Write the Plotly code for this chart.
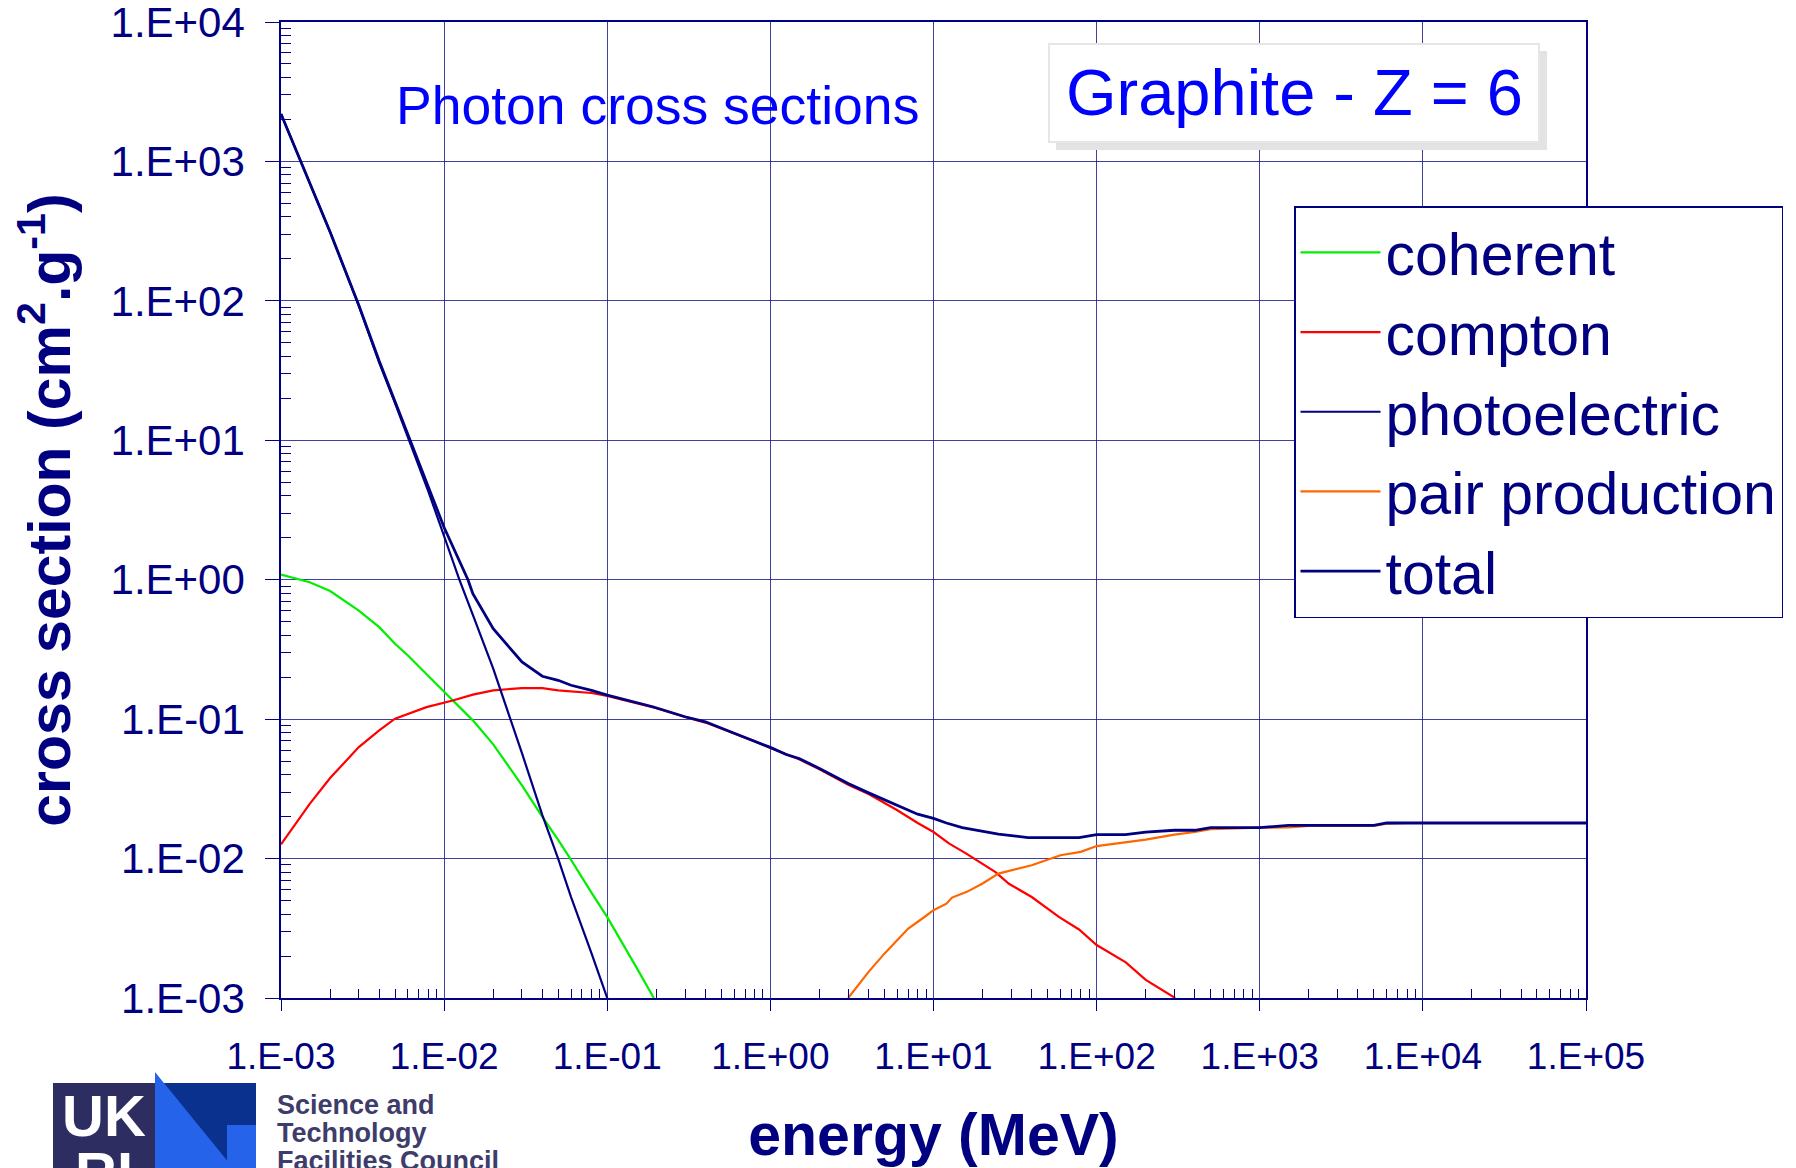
import plotly.graph_objects as go

# ---------------- data ----------------
coherent_E = [0.001, 0.0015, 0.002, 0.003, 0.004, 0.005, 0.006, 0.008, 0.01, 0.015,
              0.02, 0.03, 0.04, 0.05, 0.06, 0.08, 0.1, 0.15, 0.193]
coherent_sig = [1.09, 0.96, 0.83, 0.60, 0.457, 0.347, 0.286, 0.206, 0.157, 0.098,
                0.066, 0.0335, 0.0199, 0.0136, 0.0098, 0.0057, 0.0038, 0.00168, 0.001]

compton_E = [0.001, 0.0015, 0.002, 0.003, 0.004, 0.005, 0.0078, 0.0113, 0.015, 0.02,
             0.03, 0.04, 0.05, 0.08, 0.1, 0.15, 0.2, 0.3, 0.4, 0.6, 0.8, 1.0, 1.5, 2.0,
             3.0, 4.0, 5.0, 6.0, 8.0, 10.0, 12.5, 15.8, 24.0, 29.0, 40.0, 59.0, 78.0,
             100.0, 151.0, 200.0, 303.0]
compton_sig = [0.01265, 0.0247, 0.0378, 0.063, 0.083, 0.1007, 0.122, 0.136, 0.150, 0.161,
               0.167, 0.167, 0.161, 0.154, 0.147, 0.131, 0.120, 0.1035, 0.0945, 0.079,
               0.0695, 0.0620, 0.0515, 0.0437, 0.0338, 0.029, 0.0250, 0.0222, 0.0180,
               0.0155, 0.0128, 0.0109, 0.0080, 0.0066, 0.0053, 0.0038, 0.0031, 0.0024,
               0.0018, 0.00135, 0.001]

photo_E = [0.001, 0.0015, 0.002, 0.003, 0.004, 0.005, 0.006, 0.008, 0.01, 0.0124,
           0.015, 0.02, 0.03, 0.04, 0.05, 0.06, 0.08, 0.1]
photo_sig = [2190, 700, 312, 92, 36, 18.5, 10.6, 4.3, 2.05, 1.0,
             0.56, 0.23, 0.057, 0.0205, 0.010, 0.0053, 0.0021, 0.001]

pair_E = [3.0, 4.0, 5.0, 7.0, 8.8, 10.0, 12.0, 13.0, 16.0, 20.0, 25.0, 40.0, 60.0, 80.0,
          100.0, 200.0, 300.0, 400.0, 500.0, 1000.0, 1500.0, 2000.0, 5000.0, 6000.0,
          8000.0, 100000.0]
pair_sig = [0.001, 0.00154, 0.00208, 0.00315, 0.00381, 0.00426, 0.00475, 0.00525, 0.00577,
            0.00662, 0.0078, 0.00895, 0.01056, 0.01117, 0.0123, 0.01368, 0.01486, 0.0155,
            0.01625, 0.01667, 0.0167, 0.01714, 0.01714, 0.0178, 0.018, 0.018]

total_E = [0.001, 0.0015, 0.002, 0.003, 0.004, 0.005, 0.006, 0.008, 0.01, 0.014, 0.015,
           0.02, 0.03, 0.04, 0.05, 0.06, 0.08, 0.1, 0.19, 0.3, 0.4, 0.59, 0.78, 1.0,
           1.25, 1.5, 2.0, 3.0, 4.0, 5.0, 6.0, 8.0, 10.0, 12.0, 15.0, 18.0, 25.0, 38.0,
           78.0, 100.0, 150.0, 200.0, 300.0, 400.0, 500.0, 1000.0, 1500.0, 5000.0,
           6000.0, 100000.0]
total_sig = [2190, 700, 312, 93, 37, 19, 11, 4.6, 2.37, 1.0, 0.794,
             0.445, 0.257, 0.203, 0.19, 0.175, 0.161, 0.1486, 0.1227, 0.104, 0.0957,
             0.0798, 0.0706, 0.0627, 0.0558, 0.0522, 0.0443, 0.0345, 0.0296, 0.0265,
             0.0241, 0.0208, 0.0194, 0.018, 0.0167, 0.016, 0.01496, 0.01415, 0.01415,
             0.01486, 0.01486, 0.0155, 0.01596, 0.01596, 0.01667, 0.01667, 0.01733,
             0.01733, 0.018, 0.018]

x_tickvals = [1e-3, 1e-2, 1e-1, 1e0, 1e1, 1e2, 1e3, 1e4, 1e5]
x_ticktext = ["1.E-03", "1.E-02", "1.E-01", "1.E+00", "1.E+01", "1.E+02",
              "1.E+03", "1.E+04", "1.E+05"]
y_tickvals = [1e-3, 1e-2, 1e-1, 1e0, 1e1, 1e2, 1e3, 1e4]
y_ticktext = ["1.E-03", "1.E-02", "1.E-01", "1.E+00", "1.E+01", "1.E+02",
              "1.E+03", "1.E+04"]

series_names = ["coherent", "compton", "photoelectric", "pair production", "total"]
series_colors = ["#00EE00", "#FF0000", "#000080", "#FF6600", "#000080"]

# ---------------- layout helpers ----------------
FONT = "Liberation Sans, Arial, sans-serif"
NAVY = "#000080"
W_PX, H_PX = 1796, 1168
OFF = 8                      # page body margin of the html page
L, R, T, B = 281, 1586, 22, 998   # plot area in page pixels
PW, PH = R - L, B - T


def px(x):
    return (x - L) / PW


def py(y):
    return (B - y) / PH


minor_x = [m * 10 ** k for k in range(-3, 5) for m in range(2, 10)]
minor_y = [m * 10 ** k for k in range(-3, 4) for m in range(2, 10)]

fig = go.Figure()
data = [(coherent_E, coherent_sig), (compton_E, compton_sig), (photo_E, photo_sig),
        (pair_E, pair_sig), (total_E, total_sig)]
widths = [2.2, 2.2, 2.2, 2.2, 2.8]
for (xs, ys), name, col, w in zip(data, series_names, series_colors, widths):
    fig.add_trace(go.Scatter(x=xs, y=ys, mode="lines", name=name,
                             line=dict(color=col, width=w)))

axis_common = dict(
    type="log", showgrid=True, gridcolor="rgba(30,30,140,0.85)", gridwidth=1,
    showline=True, linecolor=NAVY, linewidth=1.5, mirror=True,
    tickmode="array", ticks="outside", tickcolor=NAVY, tickwidth=1,
    zeroline=False, ticklabeloverflow="allow",
)

fig.update_xaxes(
    **axis_common, range=[-3, 5], tickvals=x_tickvals, ticktext=x_ticktext,
    ticklen=11, ticklabelstandoff=14,
    tickfont=dict(family=FONT, size=37, color=NAVY),
    minor=dict(tickmode="array", tickvals=minor_x, ticks="inside", ticklen=9,
               tickcolor=NAVY, tickwidth=1, showgrid=False),
    title=dict(text="energy (MeV)", standoff=38,
               font=dict(family=FONT, size=59, color=NAVY, weight="bold")),
)
fig.update_yaxes(
    **axis_common, range=[-3, 4], tickvals=y_tickvals, ticktext=y_ticktext,
    ticklen=14, ticklabelstandoff=12,
    tickfont=dict(family=FONT, size=42, color=NAVY),
    minor=dict(tickmode="array", tickvals=minor_y, ticks="inside", ticklen=10,
               tickcolor=NAVY, tickwidth=1, showgrid=False),
    title=dict(text="cross section (cm<sup>2</sup>.g<sup>-1</sup>)", standoff=28,
               font=dict(family=FONT, size=59, color=NAVY, weight="bold")),
)

shapes = [
    # Graphite label box with shadow
    dict(type="rect", xref="paper", yref="paper", x0=px(1056), x1=px(1547),
         y0=py(150), y1=py(51), fillcolor="#e3e3e3", line=dict(width=0), layer="above"),
    dict(type="rect", xref="paper", yref="paper", x0=px(1049), x1=px(1539),
         y0=py(142), y1=py(44), fillcolor="white", line=dict(color="#e6e6e6", width=2),
         layer="above"),
    # logo blocks
    dict(type="rect", xref="paper", yref="paper", x0=px(53), x1=px(155),
         y0=py(1185), y1=py(1083), fillcolor="#2E2D62", line=dict(width=0), layer="above"),
    dict(type="rect", xref="paper", yref="paper", x0=px(155), x1=px(256),
         y0=py(1185), y1=py(1083), fillcolor="#0B318F", line=dict(width=0), layer="above"),
    dict(type="path", xref="paper", yref="paper",
         path="M{:.5f},{:.5f} L{:.5f},{:.5f} L{:.5f},{:.5f} Z".format(
             px(155), py(1072), px(155), py(1185), px(247), py(1185)),
         fillcolor="#2563EB", line=dict(width=0), layer="above"),
    dict(type="rect", xref="paper", yref="paper", x0=px(227), x1=px(256),
         y0=py(1185), y1=py(1125), fillcolor="#2563EB", line=dict(width=0), layer="above"),
]

annotations = [
    dict(text="Photon cross sections", xref="paper", yref="paper", x=px(657), y=py(105),
         xanchor="center", yanchor="middle", showarrow=False,
         font=dict(family=FONT, size=53.5, color="#0000FF")),
    dict(text="Graphite - Z = 6", xref="paper", yref="paper", x=px(1294), y=py(93),
         xanchor="center", yanchor="middle", showarrow=False,
         font=dict(family=FONT, size=65, color="#0000FF")),
    dict(text="UK", xref="paper", yref="paper", x=px(104), y=py(1115),
         xanchor="center", yanchor="middle", showarrow=False,
         font=dict(family=FONT, size=58, color="white", weight="bold")),
    dict(text="RI", xref="paper", yref="paper", x=px(104), y=py(1172),
         xanchor="center", yanchor="middle", showarrow=False,
         font=dict(family=FONT, size=58, color="white", weight="bold")),
]
for i, line in enumerate(["Science and", "Technology", "Facilities Council"]):
    annotations.append(dict(text=line, xref="paper", yref="paper", x=px(275),
                            y=py(1105 + 28 * i), xanchor="left", yanchor="middle",
                            showarrow=False,
                            font=dict(family=FONT, size=27, color="#3D3C6B",
                                      weight="bold")))

fig.update_layout(
    width=W_PX, height=H_PX,
    margin=dict(l=L - OFF, r=W_PX - (R - OFF), t=T - OFF, b=H_PX - (B - OFF),
                autoexpand=False),
    paper_bgcolor="white", plot_bgcolor="white",
    font=dict(family=FONT, color=NAVY),
    showlegend=True,
    legend=dict(x=px(1294), y=py(206), xanchor="left", yanchor="top",
                bgcolor="white", bordercolor=NAVY, borderwidth=1.5,
                font=dict(family=FONT, size=59, color=NAVY),
                itemwidth=80, tracegroupgap=0),
    shapes=shapes, annotations=annotations,
)

fig.write_html("out.html")
